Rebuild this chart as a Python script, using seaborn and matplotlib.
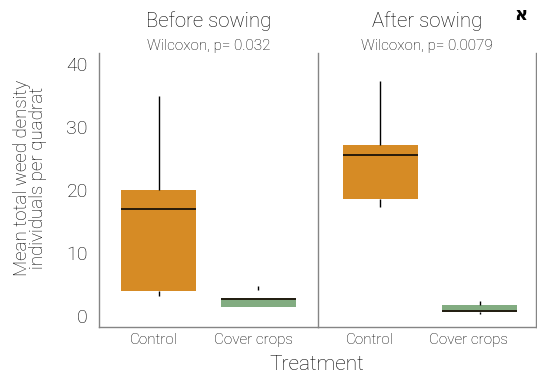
import numpy as np
import pandas as pd
import matplotlib
matplotlib.use("Agg")
import matplotlib.pyplot as plt
import matplotlib.transforms as mtransforms
import seaborn as sns

# ---- data (five-number samples) ----
periods = ["Before sowing", "After sowing"]
treatments = ["Control", "Cover crops"]
before_control = [3.2, 4.0, 17.0, 20.0, 35.0]
before_cover = [1.5, 1.5, 2.75, 2.8, 4.4]
after_control = [17.3, 18.6, 25.6, 27.1, 37.3]
after_cover = [0.3, 0.7, 0.72, 1.75, 2.4]
pvalues = ["Wilcoxon, p= 0.032", "Wilcoxon, p= 0.0079"]
yticks = [0, 10, 20, 30, 40]
colors = {"Control": "#D68B25", "Cover crops": "#82AC81"}

rows = []
for period, ctrl, cov in [("Before sowing", before_control, before_cover),
                          ("After sowing", after_control, after_cover)]:
    for v in ctrl:
        rows.append((period, "Control", v))
    for v in cov:
        rows.append((period, "Cover crops", v))
df = pd.DataFrame(rows, columns=["Period", "Treatment", "Density"])

sns.set_style("white")
plt.rcParams["font.family"] = ["Roboto", "DejaVu Sans"]
WEIGHT = "light"
plt.rcParams["font.weight"] = WEIGHT

W, H = 537, 380
fig = plt.figure(figsize=(W / 100, H / 100), dpi=100)
left, sep, right = 99, 318, 536
top, bottom = 53, 327
axes = []
for i, (x0, x1) in enumerate([(left, sep), (sep, right)]):
    ax = fig.add_axes([x0 / W, 1 - bottom / H, (x1 - x0) / W, (bottom - top) / H])
    axes.append(ax)

txt = "#000000"
spine_col = "#858585"
xlims = [(-0.6, 1.6), (-0.63, 1.57)]
label_shift = [-5, -11]
for i, (ax, period) in enumerate(zip(axes, periods)):
    sub = df[df["Period"] == period]
    sns.boxplot(data=sub, x="Treatment", y="Density", hue="Treatment",
                order=treatments, hue_order=treatments, palette=colors,
                saturation=1, width=0.75, whis=1.2, legend=False, dodge=False,
                showcaps=False, ax=ax,
                boxprops=dict(linewidth=0, edgecolor="none"),
                whiskerprops=dict(color="black", linewidth=1.0),
                medianprops=dict(color="#1a1208", linewidth=1.3),
                flierprops=dict(marker="|", markersize=3, markeredgecolor="black",
                                markeredgewidth=1.0))
    ax.set_xlim(*xlims[i])
    ax.set_ylim(-1.75, 41.75)
    ax.set_yticks(yticks)
    ax.set_xlabel("")
    ax.set_ylabel("")
    ax.tick_params(axis="both", length=0)
    ax.tick_params(axis="x", pad=4, labelsize=11, labelcolor=txt)
    ax.tick_params(axis="y", pad=8, labelsize=14, labelcolor=txt)
    for s in ["top", "right", "left", "bottom"]:
        ax.spines[s].set_visible(False)
    ax.spines["bottom"].set_visible(True)
    ax.spines["left"].set_visible(True)
    if i == 1:
        ax.spines["right"].set_visible(True)
        ax.set_yticklabels([])
    for s in ax.spines.values():
        s.set_color(spine_col)
        s.set_linewidth(1.0)
    off = mtransforms.ScaledTranslation(label_shift[i] / 100, 0, fig.dpi_scale_trans)
    for lab in ax.get_xticklabels():
        lab.set_fontweight(WEIGHT)
        lab.set_transform(lab.get_transform() + off)
    for lab in ax.get_yticklabels():
        lab.set_fontweight(WEIGHT)
    cx = ((left + sep) / 2 if i == 0 else (sep + right) / 2) / W
    fig.text(cx, 1 - 21 / H, period, ha="center", va="center", fontsize=14.7,
             color="black", fontweight=WEIGHT)
    fig.text(cx, 1 - 46 / H, pvalues[i], ha="center", va="center", fontsize=11,
             color=txt, fontweight=WEIGHT)

fig.text(317 / W, 1 - 365 / H, "Treatment", ha="center", va="center",
         fontsize=15, color=txt, fontweight=WEIGHT)
fig.text(30 / W, 1 - 178 / H, "Mean total weed density\nindividuals per quadrat",
         ha="center", va="center", rotation=90, fontsize=13.5, color=txt,
         fontweight=WEIGHT, linespacing=0.85, multialignment="center")
fig.text(521 / W, 1 - 15 / H, "א", ha="center", va="center", fontsize=13,
         fontweight="bold", color="black", family=["DejaVu Sans"])

fig.savefig("out.png", dpi=100)
